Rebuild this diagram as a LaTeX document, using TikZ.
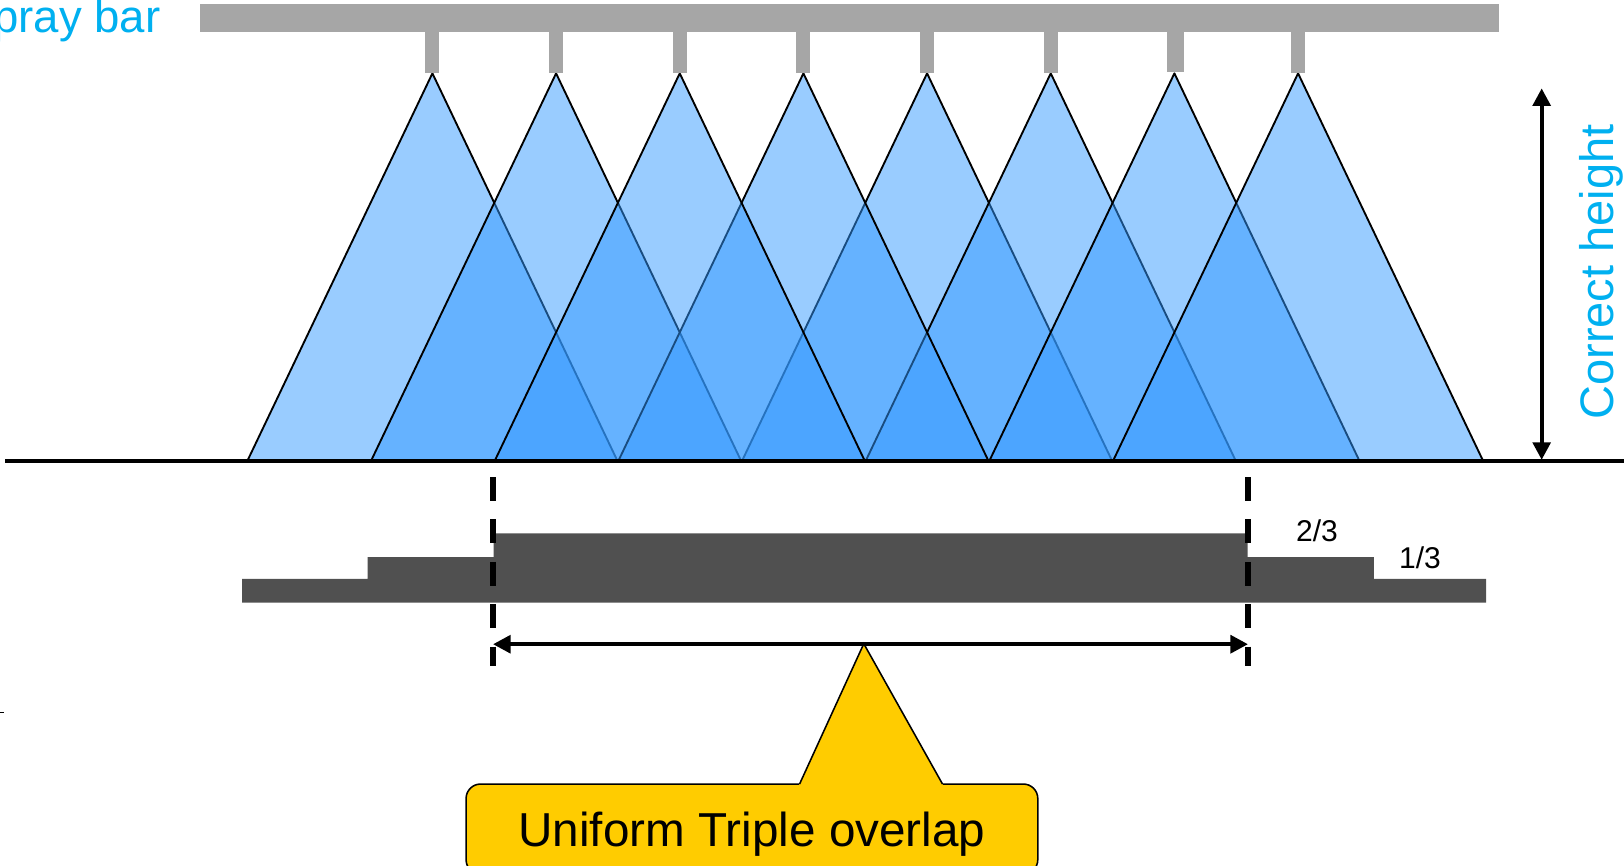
\documentclass[tikz,border=0pt]{standalone}
\usepackage{fontspec}
\setmainfont{Liberation Sans}
\usetikzlibrary{arrows.meta}
\definecolor{spraycyan}{RGB}{0,176,240}
\definecolor{barg}{RGB}{166,166,166}
\definecolor{conefill}{RGB}{51,153,255}
\definecolor{profilegray}{RGB}{80,80,80}
\definecolor{calloutyellow}{RGB}{255,204,0}
\begin{document}
\begin{tikzpicture}[x=1pt,y=-1pt,
  conefillstyle/.style={fill=conefill, fill opacity=0.5},
  coneedge/.style={draw=black, line width=1.8pt, line cap=round, line join=round},
  barstyle/.style={fill=barg},
  dimarrow/.style={line width=4pt, {Triangle[length=17pt,width=17pt]}-{Triangle[length=17pt,width=17pt]}},
  dashline/.style={line width=5pt, dash pattern=on 23.2pt off 17.7pt},
  bluetext/.style={text=spraycyan, inner sep=0pt},
  fractext/.style={font=\fontsize{29}{34}\selectfont, inner sep=0pt, anchor=base},
  calloutshape/.style={fill=calloutyellow, draw=black, line width=1.5pt},
]
\useasboundingbox (0,0) rectangle (1568,836);

% spray cones, drawn in the stacking order of the reference
\foreach \i in {0,1,4,5,3,2,6,7} {
  \pgfmathsetmacro\ax{417.5+119.4*\i}
  \fill[conefillstyle] (\ax,70.8) -- (\ax+178,443.6) -- (\ax-178,443.6) -- cycle;
  \draw[coneedge] (\ax-178,443.6) -- (\ax,70.8) -- (\ax+178,443.6);
}

% spray bar and nozzles
\fill[barstyle] (193.1,3.9) rectangle (1447.3,30.9);
\foreach \i in {0,1,2,3,4,5,7} {
  \pgfmathsetmacro\ax{417.5+119.4*\i}
  \fill[barstyle] (\ax-6.75,30) rectangle (\ax+6.75,70.8);
}
\fill[barstyle] (1134.9-8.5,30) rectangle (1134.9+8.5,69.5);

\node[bluetext, font=\fontsize{44}{50}\selectfont, anchor=base east] (spraylabel) at (155,31.5) {Spray bar};

% ground line
\coordinate (gl) at (5,445.1);
\coordinate (gr) at (1568,445.1);
\draw[line width=4.3pt] (gl) -- (gr);

% correct height arrow
\coordinate (htop) at (1488.5,85.3);
\coordinate (hbot) at (1488.5,444);
\draw[dimarrow] (htop) -- (hbot);
\node[bluetext, font=\fontsize{45.4}{52}\selectfont, rotate=90, anchor=base] (heightlabel) at (1557.4,262.6) {Correct height};

% coverage profile
\fill[profilegray] (233.8,581.9) -- (233.8,559) -- (355,559) -- (355,537.8) -- (476.5,537.8)
  -- (476.5,514.9) -- (1204.7,514.9) -- (1204.7,537.8) -- (1326.6,537.8) -- (1326.6,559)
  -- (1434.8,559) -- (1434.8,581.9) -- cycle;
\node[fractext] (twothirds) at (1271.6,523) {2/3};
\node[fractext] (onethird) at (1371,548.7) {1/3};

% dashed limits
\coordinate (d1t) at (476,460.6);
\coordinate (d1b) at (476,643);
\coordinate (d2t) at (1205,460.6);
\coordinate (d2b) at (1205,643);
\draw[dashline] (d1t) -- (d1b);
\draw[dashline] (d2t) -- (d2b);

% callout
\coordinate (ptip) at (834,621.5);
\fill[calloutshape, rounded corners=14pt] (450,757) rectangle (1002,844);
\fill[calloutyellow] (771,759) -- (ptip) -- (911,759) -- cycle;
\draw[line width=1.5pt, line join=miter] (772,757) -- (ptip) -- (910,757);
\node[font=\fontsize{46}{54}\selectfont, anchor=base, inner sep=0pt] (callout) at (726,817) {Uniform Triple overlap};

% uniform width arrow
\coordinate (wl) at (476,622);
\coordinate (wr) at (1205,622);
\draw[dimarrow] (wl) -- (wr);

% small mark at left edge
\coordinate (m1) at (0,688);
\coordinate (m2) at (4,688);
\draw[line width=1.5pt] (m1) -- (m2);
\end{tikzpicture}
\end{document}
